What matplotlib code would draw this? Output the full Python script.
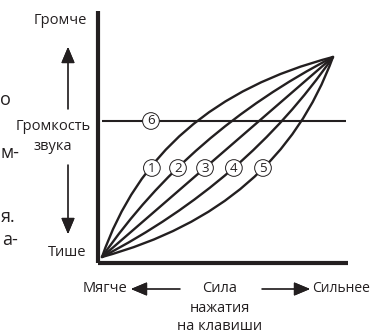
import matplotlib
matplotlib.use("Agg")
import matplotlib.pyplot as plt
from matplotlib.path import Path
from matplotlib.patches import PathPatch

plt.rcParams['font.family'] = ['Open Sans', 'DejaVu Sans']

INK = '#231f20'

# curves 1..5 : quadratic bezier from (0,0) to (1,1) through a control point
curve_ids = ['1', '2', '3', '4', '5']
ctrl_x = [0.23, 0.375, 0.5, 0.625, 0.76]
ctrl_y = [0.77, 0.625, 0.5, 0.375, 0.24]
# where the circled numbers sit on the curves
label_x = [0.216, 0.329, 0.446, 0.571, 0.697]
label_y = [0.445, 0.445, 0.445, 0.445, 0.445]

# curve 6 : constant volume
fixed_level = 0.68
fixed_label_x = 0.212

fig = plt.figure(figsize=(3.71, 3.36), dpi=100)
ax = fig.add_axes([98 / 371, 1 - 263 / 336, 250 / 371, 252 / 336])
ax.set_xlim(-0.0173, 1.065)
ax.set_ylim(-0.03, 1.23)
for s in ['top', 'right']:
    ax.spines[s].set_visible(False)
for s in ['left', 'bottom']:
    ax.spines[s].set_linewidth(3)
    ax.spines[s].set_color(INK)
    ax.spines[s].set_capstyle('butt')
ax.set_xticks([])
ax.set_yticks([])
ax.patch.set_visible(False)

for cx, cy in zip(ctrl_x, ctrl_y):
    p = Path([(0, 0), (cx, cy), (1, 1)], [Path.MOVETO, Path.CURVE3, Path.CURVE3])
    ax.add_patch(PathPatch(p, fill=False, ec=INK, lw=1.7, capstyle='round',
                           joinstyle='miter', clip_on=False))

ax.plot([0, 1.056], [fixed_level, fixed_level], color=INK, lw=1.5,
        solid_capstyle='butt', clip_on=False)

circ = dict(boxstyle='circle,pad=0.14', fc='white', ec=INK, lw=0.7)
for name, x, y in zip(curve_ids, label_x, label_y):
    ax.text(x, y, name, ha='center', va='center', fontsize=9.5, color=INK,
            bbox=circ, zorder=5)
ax.text(fixed_label_x, fixed_level, '6', ha='center', va='center', fontsize=9.5,
        color=INK, bbox=circ, zorder=5)

H = 336
fs = 10.5


def ftext(x, y, s, **kw):
    fig.text(x / 371, (H - y) / H, s, fontsize=kw.pop('fontsize', fs), color=INK,
             va='center', **kw)


def farrow(x0, y0, x1, y1):
    fig.add_artist(plt.annotate('', xy=(x1, H - y1), xytext=(x0, H - y0),
                                xycoords='figure pixels', textcoords='figure pixels',
                                arrowprops=dict(arrowstyle='-|>,head_length=1.0,head_width=0.42',
                                                mutation_scale=10, lw=0.9, color=INK,
                                                shrinkA=0, shrinkB=0)))


# volume axis labels
ftext(87, 20, 'Громче', ha='right')
ftext(53, 127, 'Громкость', ha='center')
ftext(53, 146, 'звука', ha='center')
ftext(86, 252, 'Тише', ha='right')
farrow(68, 109, 68, 47)
farrow(68, 165, 68, 234)

# key pressure labels
ftext(127, 288, 'Мягче', ha='right')
ftext(220, 288, 'Сила', ha='center')
ftext(220, 308, 'нажатия', ha='center')
ftext(220, 327, 'на клавиши', ha='center')
ftext(370, 288, 'Сильнее', ha='right', fontsize=10)
farrow(180, 289, 131, 289)
farrow(262, 289, 310, 289)

# body text of the page, cut at the left edge
for s, x, y in [('о', 11, 100), ('м-', 19, 153), ('я.', 15, 217), ('а-', 18, 240)]:
    ftext(x, y, s, ha='right', fontsize=13)

fig.savefig('out.png', dpi=100)
